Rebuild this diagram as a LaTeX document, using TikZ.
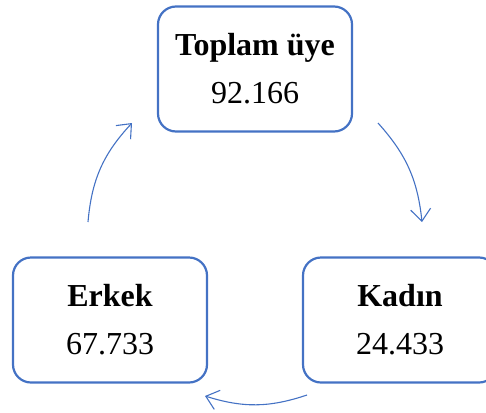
\documentclass[tikz,border=0pt]{standalone}
\usepackage{fontspec}
\setmainfont{Liberation Serif}
\usetikzlibrary{arrows.meta}
\definecolor{boxblue}{HTML}{4472C4}

\tikzset{
    infobox/.style={draw=boxblue, line width=1.1pt, rounded corners=9pt,
        minimum width=97pt, minimum height=62.5pt, align=center,
        font=\fontsize{16}{24}\selectfont},
    cyclearrow/.style={draw=boxblue, line width=0.55pt,
        -{Straight Barb[length=6pt,width=10pt,line width=0.55pt]}}
}

\begin{document}
\begin{tikzpicture}[x=0.5pt,y=-0.5pt]
    \useasboundingbox (0,0) rectangle (486,412);

    % boxes
    \node[infobox] (toplam) at (255,69) {\textbf{Toplam üye}\\92.166};
    \node[infobox] (erkek) at (110,320) {\textbf{Erkek}\\67.733};
    \node[infobox] (kadin) at (400,320) {\textbf{Kadın}\\24.433};

    % arrow ends
    \coordinate (t_out) at (378,123);
    \coordinate (k_in) at (422,222);
    \coordinate (k_out) at (307,395);
    \coordinate (e_in) at (205,396);
    \coordinate (e_out) at (88,222);
    \coordinate (t_in) at (132,123);

    \draw[cyclearrow] (t_out) to[bend left=18] (k_in);
    \draw[cyclearrow] (k_out) to[bend left=18] (e_in);
    \draw[cyclearrow] (e_out) to[bend left=19] (t_in);

\end{tikzpicture}
\end{document}
